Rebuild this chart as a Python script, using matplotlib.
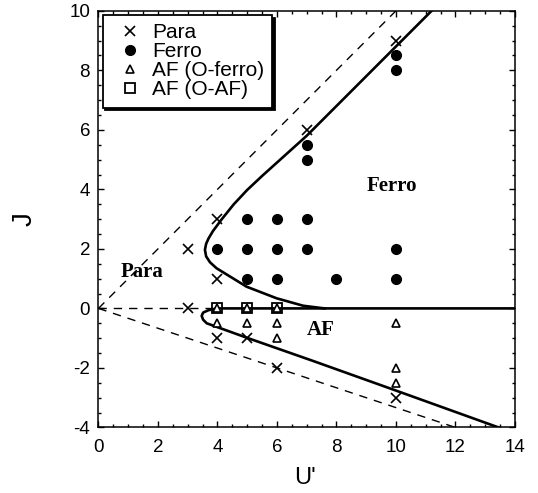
import matplotlib
matplotlib.use("Agg")
import matplotlib.pyplot as plt
from matplotlib.ticker import MultipleLocator

plt.rcParams["font.family"] = ["Liberation Sans", "DejaVu Sans"]
plt.rcParams["axes.unicode_minus"] = False

# calculated points (U', J)
para_u = [3, 3, 4, 4, 4, 5, 6, 7, 10, 10]
para_j = [2, 0, 3, 1, -1, -1, -2, 6, 9, -3]

ferro_u = [4, 5, 5, 5, 6, 6, 6, 7, 7, 7, 7, 8, 10, 10, 10, 10]
ferro_j = [2, 3, 2, 1, 3, 2, 1, 5.5, 5, 3, 2, 1, 8.5, 8, 2, 1]

af_oferro_u = [4, 5, 6, 4, 5, 6, 6, 10, 10, 10]
af_oferro_j = [0, 0, 0, -0.5, -0.5, -0.5, -1, -0.5, -2, -2.5]

af_oaf_u = [4, 5, 6]
af_oaf_j = [0, 0, 0]

# phase boundaries
upper_u = [11.2, 10.0, 8.5, 7.0, 6.0, 5.5, 5.0, 4.55, 4.14, 3.85, 3.7, 3.62, 3.58,
           3.62, 3.75, 3.97, 4.98, 5.99, 6.88, 7.6, 14.0]
upper_j = [10.0, 8.8, 7.3, 5.8, 4.9, 4.45, 3.98, 3.5, 2.99, 2.6, 2.35, 2.17, 1.97,
           1.75, 1.55, 1.35, 0.73, 0.34, 0.09, 0.0, 0.0]

lower_u = [7.6, 4.0, 3.7, 3.52, 3.47, 3.52, 3.64, 5.0, 7.2, 10.0, 13.45]
lower_j = [0.0, 0.0, -0.06, -0.14, -0.25, -0.38, -0.5, -0.99, -1.76, -2.76, -4.0]

# dashed guide lines
guide_upper_u = [0, 10]
guide_upper_j = [0, 10]
guide_lower_u = [0, 12]
guide_lower_j = [0, -4]
guide_zero_u = [0, 3.85]
guide_zero_j = [0, 0]

fig = plt.figure(figsize=(5.38, 4.93), dpi=100)
ax = fig.add_axes([0.183, 0.133, 0.774, 0.845])

dash = dict(color="black", linewidth=1.0, linestyle=(0, (6, 5)))
ax.plot(guide_upper_u, guide_upper_j, **dash)
ax.plot(guide_lower_u, guide_lower_j, **dash)
ax.plot(guide_zero_u, guide_zero_j, **dash)

ax.plot(upper_u, upper_j, color="black", linewidth=1.9, solid_joinstyle="round")
ax.plot(lower_u, lower_j, color="black", linewidth=1.9, solid_joinstyle="round")

ax.plot(para_u, para_j, "x", color="black", markersize=7.5, markeredgewidth=1.2,
        label="Para", linestyle="none")
ax.plot(ferro_u, ferro_j, "o", color="black", markersize=7, label="Ferro",
        linestyle="none")
ax.plot(af_oferro_u, af_oferro_j, "^", markerfacecolor="white", markeredgecolor="black",
        markersize=5.5, markeredgewidth=1.2, label="AF (O-ferro)", linestyle="none")
ax.plot(af_oaf_u, af_oaf_j, "s", markerfacecolor="none", markeredgecolor="black",
        markersize=6.5, markeredgewidth=1.3, label="AF (O-AF)", linestyle="none")

serif = dict(family=["Liberation Serif", "DejaVu Serif"], fontweight="bold", fontsize=15)
ax.text(1.48, 1.21, "Para", ha="center", va="center", **serif)
ax.text(9.88, 4.12, "Ferro", ha="center", va="center", **serif)
ax.text(7.47, -0.72, "AF", ha="center", va="center", **serif)

ax.set_xlim(0, 14)
ax.set_ylim(-4, 10)
ax.xaxis.set_major_locator(MultipleLocator(2))
ax.xaxis.set_minor_locator(MultipleLocator(0.5))
ax.yaxis.set_major_locator(MultipleLocator(2))
ax.yaxis.set_minor_locator(MultipleLocator(0.5))
ax.tick_params(which="both", direction="in", top=True, right=True, labelsize=13.5)
ax.tick_params(which="major", length=4.5, width=1.0)
ax.tick_params(which="minor", length=2.3, width=1.0)
ax.tick_params(axis="x", pad=8)
ax.tick_params(axis="y", pad=6)
for spine in ax.spines.values():
    spine.set_linewidth(1.1)

ax.set_xlabel("U'", fontsize=17)
ax.set_ylabel("J", fontsize=20, rotation=90)
ax.xaxis.set_label_coords(0.496, -0.094)
ax.yaxis.set_label_coords(-0.145, 0.5)

leg = ax.legend(loc="upper left", bbox_to_anchor=(0, 1), borderaxespad=0.2,
                fontsize=15, frameon=True, fancybox=False, edgecolor="black",
                framealpha=1, handlelength=1.85, handletextpad=0.12,
                labelspacing=0.0, borderpad=0.4,
                shadow={"color": "black", "alpha": 1})
leg.get_frame().set_linewidth(1.3)

fig.savefig("out.png", dpi=100)
